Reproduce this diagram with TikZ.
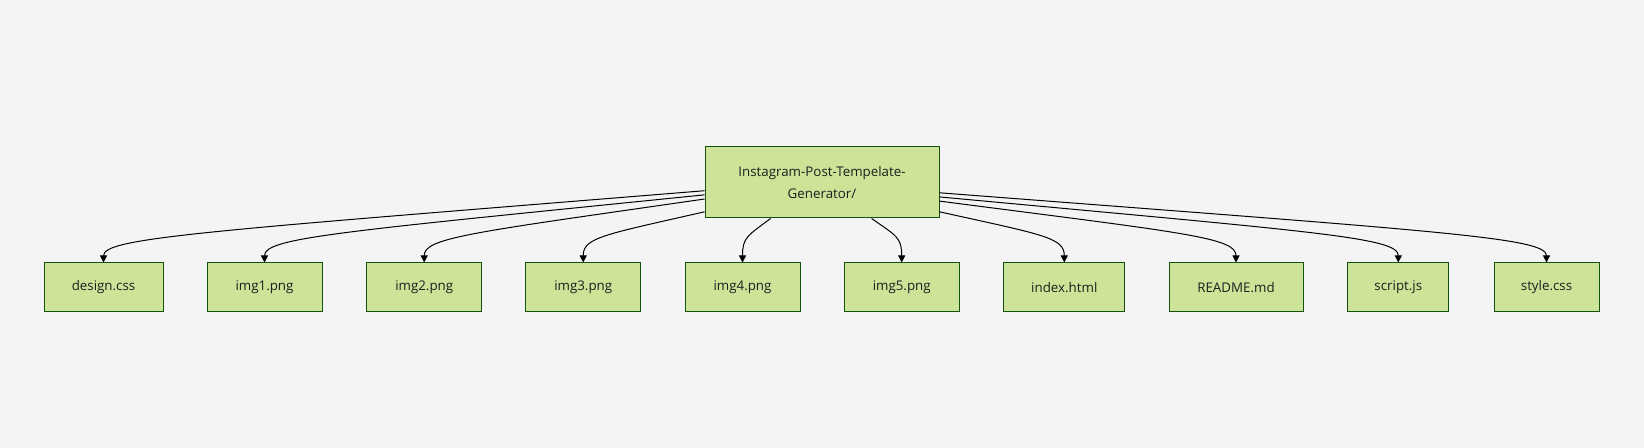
\documentclass[tikz,border=0pt]{standalone}
\usepackage{fontspec}
\setmainfont{Open Sans}
\usetikzlibrary{arrows.meta,calc}
\definecolor{bg}{HTML}{F4F4F4}
\definecolor{boxfill}{HTML}{CDE498}
\definecolor{boxline}{HTML}{13540C}
\definecolor{txt}{HTML}{1E1E1E}
\newcommand\filedge[2]{%
  \coordinate (k#2) at ($(#2.north)+(0,-23)$);
  \coordinate (c#2) at ($(#2.north)+(0,-25)$);
  \draw[edge] (root.#1) .. controls ($(root.#1)!0.83!(k#2)$) and (c#2) .. (#2.north);}
\begin{document}
\begin{tikzpicture}[x=0.75pt,y=-0.75pt,
  box/.style={draw=boxline, fill=boxfill, line width=0.75pt, minimum height=36.75pt,
    inner sep=0pt, font=\fontsize{10}{12}\selectfont, text=txt},
  edge/.style={draw=black, line width=0.75pt, -{Triangle[width=5.25pt,length=5.25pt]}}]
\fill[bg] (0,0) rectangle (1644,448);
\useasboundingbox (0,0) rectangle (1644,448);
\node[box, minimum width=175.5pt, minimum height=53.25pt, align=center,
  font=\fontsize{10}{16.5}\selectfont] (root) at (822,182.5) {Instagram-Post-Tempelate-\\Generator/};
\node[box, minimum width=89.25pt] (design) at (103.5,287.5) {design.css};
\node[box, minimum width=86.25pt] (img1) at (264.5,287.5) {img1.png};
\node[box, minimum width=86.25pt] (img2) at (424.2,287.5) {img2.png};
\node[box, minimum width=86.25pt] (img3) at (583.2,287.5) {img3.png};
\node[box, minimum width=86.25pt] (img4) at (742.5,287.5) {img4.png};
\node[box, minimum width=86.25pt] (img5) at (901.7,287.5) {img5.png};
\node[box, minimum width=90.5pt] (index) at (1064.3,287.5) {index.html};
\node[box, minimum width=100.5pt] (readme) at (1236,287.5) {README.md};
\node[box, minimum width=76pt] (script) at (1398.3,287.5) {script.js};
\node[box, minimum width=78.75pt] (style) at (1546.5,287.5) {style.css};
\filedge{184.8}{design}
\filedge{186.1}{img1}
\filedge{188.5}{img2}
\filedge{194.0}{img3}
\filedge{215.8}{img4}
\filedge{324.5}{img5}
\filedge{346.0}{index}
\filedge{351.5}{readme}
\filedge{353.9}{script}
\filedge{355.2}{style}
\end{tikzpicture}
\end{document}
